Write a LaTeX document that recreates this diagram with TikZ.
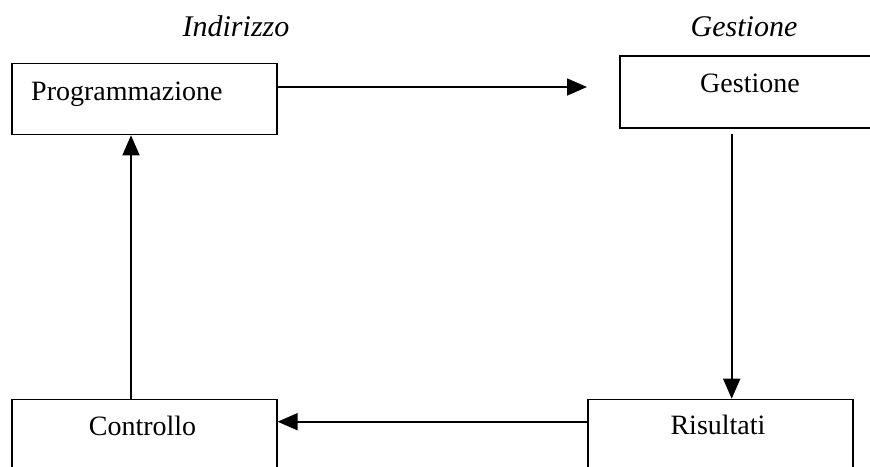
\documentclass[tikz,border=0pt]{standalone}
\usepackage{fontspec}
\setmainfont{Liberation Serif}
\usetikzlibrary{arrows.meta}
\begin{document}
\begin{tikzpicture}[x=1pt,y=-1pt,
  box/.style={draw, line width=1.6pt, inner sep=0pt, anchor=north west},
  lbl/.style={anchor=base, inner sep=0pt, font=\fontsize{28}{32}\selectfont},
  ttl/.style={anchor=base, inner sep=0pt, font=\fontsize{30}{34}\selectfont\itshape},
  conn/.style={line width=1.6pt, -{Triangle[length=20pt,width=17pt]}}]
\path[use as bounding box] (0,0) rectangle (870,466);
\clip (0,0) rectangle (870,466);
\fill[white] (0,0) rectangle (870,466);
% titles
\node[ttl] (tInd) at (236,36) {Indirizzo};
\node[ttl] (tGes) at (744,36) {Gestione};
% boxes
\node[box, minimum width=265pt, minimum height=71pt] (prog) at (11,62.7) {};
\node[box, minimum width=270pt, minimum height=72pt] (gest) at (619,55) {};
\node[box, minimum width=265pt, minimum height=100pt] (ctrl) at (11,398.7) {};
\node[box, minimum width=265pt, minimum height=100pt] (ris) at (587,398.7) {};
% texts
\node[lbl, anchor=base west] (xProg) at (31,100) {Programmazione};
\node[lbl] (xGest) at (750,92) {Gestione};
\node[lbl] (xCtrl) at (142.5,435) {Controllo};
\node[lbl] (xRis) at (718,434) {Risultati};
% connector end points
\coordinate (a1) at (prog.east |- 0,87);
\coordinate (a2) at (587,87);
\coordinate (b1) at (731.7,134);
\coordinate (b2) at ({731.7},0 |- ris.north);
\coordinate (c1) at (ris.west |- 0,421.7);
\coordinate (c2) at (ctrl.east |- 0,421.7);
\coordinate (d1) at ({131},0 |- ctrl.north);
\coordinate (d2) at ({131},0 |- prog.south);
\draw[conn] (a1) -- (a2);
\draw[conn] (b1) -- (b2);
\draw[conn] (c1) -- (c2);
\draw[conn] (d1) -- (d2);
\end{tikzpicture}
\end{document}
